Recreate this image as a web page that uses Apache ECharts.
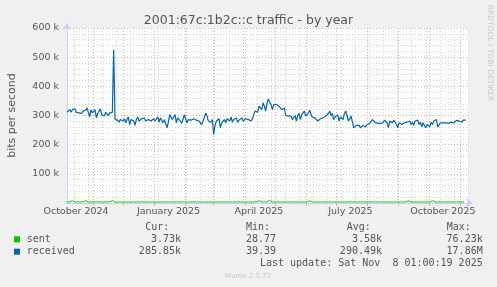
<!DOCTYPE html>
<html><head><meta charset="utf-8">
<script src="https://cdn.jsdelivr.net/npm/echarts@6/dist/echarts.min.js"></script>
<style>html,body{margin:0;padding:0;background:#f0f0f0}#c{width:497px;height:287px}</style>
</head><body><div id="c"></div>
<script>
const titleText = '2001:67c:1b2c::c traffic - by year';
const yAxisName = 'bits per second';
const sideText = 'RRDTOOL / TOBI OETIKER';
const footerText = 'Munin 2.0.73';
const startDate = '2024-10-06';
const dayCount = 400;
const monthNames = ['January','February','March','April','May','June','July','August','September','October','November','December'];
const labelMonths = [1, 4, 7, 10];
const yTicks = [0, 100, 200, 300, 400, 500, 600];
// received, in k bits/s, one sample per receivedStepDays
const receivedStepDays = 1.327;
const received = [
311,315,320,311,320,318,323,311,315,309,
311,307,315,311,318,326,332,295,320,309,
303,320,292,307,315,323,303,309,298,311,
307,300,309,307,311,525,286,281,284,277,
286,292,281,289,275,286,295,269,286,292,
281,266,286,295,281,275,289,284,292,281,
277,286,289,281,284,289,281,286,295,277,
292,286,275,286,292,258,277,303,307,286,
281,303,275,292,295,281,273,286,303,289,
275,286,292,284,286,289,286,284,289,281,
286,269,281,295,309,298,281,286,277,286,
235,266,281,286,289,258,275,281,286,275,
289,295,281,295,277,286,281,292,277,284,
286,292,281,286,289,284,286,286,
281,289,303,315,318,311,332,337,320,343,
332,315,343,357,345,337,320,337,343,337,
334,332,326,320,315,326,300,295,298,292,
298,286,292,300,281,300,307,286,303,298,
315,298,303,309,318,303,295,300,292,298,
281,286,289,286,292,289,298,303,307,315,
300,307,286,295,289,303,281,295,300,286,
307,315,300,281,277,298,298,258,255,266,
261,266,258,261,266,264,261,269,269,273,
275,286,281,277,275,273,277,273,277,275,
284,286,275,258,281,286,275,284,281,269,
258,275,281,269,264,275,269,277,273,281,
269,277,266,281,275,284,269,277,261,275,
266,258,269,275,261,277,269,281,275,286,
261,258,275,277,275,273,275,277,273,275,
277,281,275,281,283,277,281,275,277,284,
286,284];
// sent, in k bits/s, one sample per sentStepDays
const sentStepDays = 2.654;
const sent = [
3.5,3.4,8.0,3.5,3.6,3.5,3.4,8.0,3.5,3.5,
3.6,3.5,3.4,3.5,3.5,3.6,3.5,8.5,3.5,3.4,
3.5,3.5,3.6,3.5,3.4,3.5,3.5,3.6,3.5,3.5,
3.4,3.5,3.6,3.5,3.5,3.4,3.5,3.5,3.6,3.5,
3.5,3.4,3.5,3.6,3.5,3.5,3.4,3.5,3.5,3.6,
3.5,3.5,3.4,3.5,3.6,3.5,3.5,3.4,3.5,3.5,
3.6,3.5,3.5,3.4,3.5,3.6,3.5,3.5,3.4,3.5,
3.5,3.6,8.0,3.5,3.4,3.5,8.5,3.5,3.6,3.5,
3.5,3.4,3.5,3.5,3.6,3.5,3.4,3.5,3.5,3.6,
3.5,8.0,3.5,3.4,3.5,3.6,3.5,3.5,3.4,3.5,
3.5,3.6,3.5,3.5,3.4,3.5,3.6,3.5,3.5,3.4,
3.5,3.5,3.6,3.5,3.5,3.4,3.5,3.6,3.5,3.5,
3.4,3.5,3.5,3.6,3.5,3.5,3.4,3.5,8.0,3.5,
3.6,3.5,3.5,3.4,3.5,3.6,3.5,8.0,3.5,3.4,
3.5,3.6,3.5,3.5,3.4,3.5,3.6,3.5,3.7,3.7];
const legendHeaders = ['Cur:', 'Min:', 'Avg:', 'Max:'];
const seriesNames = ['sent', 'received'];
const seriesColors = ['#00cc00', '#0066b3'];
const sentStats = ['3.73k', '28.77', '3.58k', '76.23k'];
const receivedStats = ['285.85k', '39.39', '290.49k', '17.86M'];
const lastUpdate = 'Last update: Sat Nov  8 01:00:19 2025';

const days = [];
{
  const t0 = Date.parse(startDate + 'T00:00:00Z');
  for (let i = 0; i < dayCount; i++) days.push(new Date(t0 + i * 86400000).toISOString().slice(0, 10));
}
const isMonthStart = (i, v) => v.slice(8) === '01';
const isLabelDay = (i, v) => v.slice(8) === '15' && labelMonths.includes(+v.slice(5, 7));
const isMinorDay = (i) => i % 14 === 7;

const axisColor = '#c8d0f0';
const textColor = '#555';
const sans = 'DejaVu Sans';
const mono = 'DejaVu Sans Mono';

const chart = echarts.init(document.getElementById('c'), null, {renderer: 'canvas'});
const legendCols = {headerX: [145.3, 246, 346.7, 446.7], valueEnd: [181, 276, 382, 482.7]};
const rowY = [239.3, 251.7];
const graphic = [];
legendHeaders.forEach((h, k) => graphic.push({type: 'text', x: legendCols.headerX[k], y: 227.7,
  style: {text: h, font: '10px ' + mono, fill: textColor, textAlign: 'left', textVerticalAlign: 'middle'}}));
[sentStats, receivedStats].forEach((stats, r) => {
  graphic.push({type: 'rect', shape: {x: 14, y: rowY[r] - 3, width: 6, height: 6}, style: {fill: seriesColors[r]}});
  graphic.push({type: 'text', x: 26.7, y: rowY[r], style: {text: seriesNames[r], font: '10px ' + mono, fill: textColor, textAlign: 'left', textVerticalAlign: 'middle'}});
  stats.forEach((s, k) => graphic.push({type: 'text', x: legendCols.valueEnd[k], y: rowY[r],
    style: {text: s, font: '10px ' + mono, fill: textColor, textAlign: 'right', textVerticalAlign: 'middle'}}));
});
graphic.push({type: 'text', x: 482.7, y: 263.7, style: {text: lastUpdate, font: '10px ' + mono, fill: textColor, textAlign: 'right', textVerticalAlign: 'middle'}});
graphic.push({type: 'text', x: 248, y: 276, style: {text: footerText, font: '7px ' + sans, fill: '#c8c8c8', textAlign: 'center', textVerticalAlign: 'middle'}});
graphic.push({type: 'text', x: 490, y: 53, rotation: -Math.PI / 2, style: {text: sideText, font: '7.5px ' + sans, fill: '#c8c8c8', textAlign: 'center', textVerticalAlign: 'middle'}});

chart.setOption({
  animation: false,
  backgroundColor: '#f0f0f0',
  title: {text: titleText, left: 'center', top: 9, textStyle: {fontFamily: sans, fontSize: 12.5, fontWeight: 'normal', color: textColor}},
  grid: {left: 67, top: 28, width: 401, height: 175, show: true, backgroundColor: '#fff', borderWidth: 0, containLabel: false, outerBoundsMode: 'none'},
  xAxis: [
    {type: 'category', data: days, boundaryGap: false, gridIndex: 0, position: 'bottom', offset: 0,
      axisLine: {show: false}, axisTick: {show: false}, axisLabel: {show: false},
      splitLine: {show: true, interval: isMinorDay, lineStyle: {color: '#d4d4d4', type: [1, 2], width: 1}}},
    {type: 'category', data: days, boundaryGap: false, gridIndex: 0, position: 'bottom', offset: 0,
      axisLine: {show: true, symbol: ['none', 'arrow'], symbolSize: [7, 7], symbolOffset: [0, 5], lineStyle: {color: axisColor, width: 1}},
      axisTick: {show: true, interval: isMonthStart, length: 3, lineStyle: {color: '#f0a8a8', width: 1}},
      axisLabel: {show: true, interval: isLabelDay, margin: 4, fontFamily: sans, fontSize: 9.5, color: textColor,
        formatter: v => monthNames[+v.slice(5, 7) - 1] + ' ' + v.slice(0, 4)},
      splitLine: {show: true, interval: isMonthStart, lineStyle: {color: '#f0a8a8', type: [1, 2], width: 1}}},
    {type: 'value', min: 0, max: dayCount - 1, show: false, gridIndex: 0, position: 'bottom', offset: 0}
  ],
  yAxis: {type: 'value', min: yTicks[0], max: yTicks[yTicks.length - 1], interval: yTicks[1] - yTicks[0], position: 'left',
    name: yAxisName, nameLocation: 'middle', nameGap: 49, nameTextStyle: {fontFamily: sans, fontSize: 11, color: textColor},
    axisLine: {show: true, symbol: ['none', 'arrow'], symbolSize: [7, 7], symbolOffset: [0, 5], lineStyle: {color: axisColor, width: 1}},
    axisTick: {show: false},
    axisLabel: {margin: 8, fontFamily: sans, fontSize: 9.5, color: textColor, formatter: v => v === 0 ? '' : v + ' k'},
    splitLine: {show: true, lineStyle: {color: '#f0a8a8', type: [1, 2], width: 1}},
    minorTick: {show: false, splitNumber: 5},
    minorSplitLine: {show: true, lineStyle: {color: '#d4d4d4', type: [1, 2], width: 1}}},
  series: [
    {name: 'received', type: 'line', xAxisIndex: 2, showSymbol: false, symbol: 'none',
      data: received.map((v, i) => [i * receivedStepDays, v]),
      lineStyle: {color: seriesColors[1], width: 1.2}, z: 3},
    {name: 'sent', type: 'line', xAxisIndex: 2, showSymbol: false, symbol: 'none',
      data: sent.map((v, i) => [i * sentStepDays, v]),
      lineStyle: {color: seriesColors[0], width: 1}, z: 4}
  ],
  graphic: graphic
});
</script></body></html>
